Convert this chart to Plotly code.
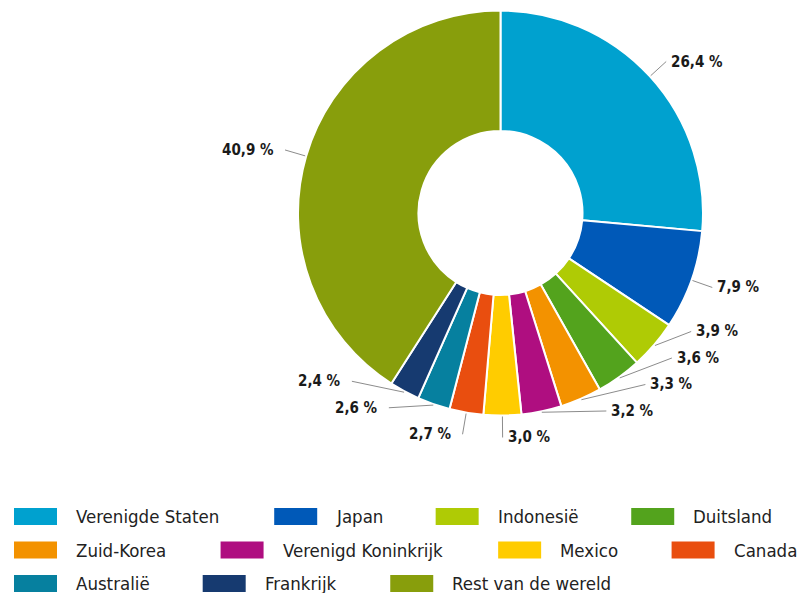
import math
import plotly.graph_objects as go

# ---------------- data ----------------
categories = ["Verenigde Staten", "Japan", "Indonesië", "Duitsland", "Zuid-Korea",
              "Verenigd Koninkrijk", "Mexico", "Canada", "Australië", "Frankrijk",
              "Rest van de wereld"]
shares = [26.4, 7.9, 3.9, 3.6, 3.3, 3.2, 3.0, 2.7, 2.6, 2.4, 40.9]
colors = ["#00A1CF", "#0059B8", "#AFCB05", "#53A31D", "#F39200", "#AF0E80",
          "#FFCC00", "#E94E0F", "#06809F", "#163A70", "#889E0C"]

# ---------------- layout constants ----------------
W, H = 801, 593
CX, CY, R = 500.5, 213.0, 202.5
HOLE = 0.405
LABEL_R = 224.5
MIN_DY = 26.5
FONT = "DejaVu Sans Condensed, sans-serif"
LEG_SIZE = 18.5
LAB_SIZE = 15


def px(x):
    return x / W


def py(y):
    return 1 - y / H


fig = go.Figure(go.Pie(
    labels=categories, values=shares,
    marker=dict(colors=colors, line=dict(color="white", width=2)),
    sort=False, direction="clockwise", rotation=0, hole=HOLE,
    textinfo="none", showlegend=False,
    domain=dict(x=[px(CX - R), px(CX + R)], y=[py(CY + R), py(CY - R)]),
))

# ---------------- outside labels with leader lines ----------------
total = sum(shares)
mids = []
cum = 0.0
for v in shares:
    mids.append(360.0 * (cum + v / 2) / total)
    cum += v

nat_y = [CY - LABEL_R * math.cos(math.radians(t)) for t in mids]
label_y = list(nat_y)
for side in (0, 1):
    idx = [i for i, t in enumerate(mids) if (t < 180) == (side == 0)]
    idx.sort(key=lambda i: -nat_y[i])
    prev = float("inf")
    for i in idx:
        y = min(nat_y[i], prev - MIN_DY)
        label_y[i] = y
        prev = y

shapes = []
annotations = []
for i, t in enumerate(mids):
    right = t < 180
    y = label_y[i]
    dx = math.sqrt(max(LABEL_R ** 2 - (y - CY) ** 2, 0))
    x = CX + dx if right else CX - dx
    sx = CX + (R + 1) * math.sin(math.radians(t))
    sy = CY - (R + 1) * math.cos(math.radians(t))
    shapes.append(dict(type="line", xref="paper", yref="paper",
                       x0=px(sx), y0=py(sy), x1=px(x), y1=py(y),
                       line=dict(color="#8c8c8c", width=1)))
    txt = f"{shares[i]:.1f}".replace(".", ",") + " %"
    annotations.append(dict(
        xref="paper", yref="paper", showarrow=False,
        x=px(x + 3 if right else x - 9), y=py(y),
        xanchor="left" if right else "right", yanchor="middle",
        text=txt, font=dict(family=FONT, size=LAB_SIZE, color="#1a1a1a", weight="bold"),
    ))

# ---------------- legend (flow layout) ----------------
# approximate DejaVu Sans advance widths (em/1000)
cw = {"a": 613, "b": 635, "c": 550, "d": 635, "e": 615, "f": 352, "g": 635, "h": 634,
      "i": 278, "j": 278, "k": 579, "l": 278, "m": 974, "n": 634, "o": 612, "p": 635,
      "r": 411, "s": 521, "t": 392, "u": 634, "v": 592, "w": 818, "x": 592, "y": 592,
      "z": 525, " ": 318, "-": 361, "ë": 615, "A": 684, "C": 698, "D": 770, "F": 575,
      "I": 295, "J": 295, "K": 656, "M": 863, "R": 695, "S": 635, "V": 684, "Z": 685}


def text_w(s):
    return sum(cw.get(c, 600) for c in s) / 1000 * 0.9 * LEG_SIZE


SW_W, SW_H, SW_GAP, ITEM_GAP = 43, 17, 17, 55
LEG_X0, LEG_Y0, ROW_H = 14, 516.5, 33.5
lx, row = LEG_X0, 0
for name, col in zip(categories, colors):
    w = SW_W + SW_GAP + text_w(name)
    if lx > LEG_X0 and lx + w > W:
        row += 1
        lx = LEG_X0
    yc = LEG_Y0 + row * ROW_H
    shapes.append(dict(type="rect", xref="paper", yref="paper",
                       x0=px(lx), x1=px(lx + SW_W), y0=py(yc + SW_H / 2), y1=py(yc - SW_H / 2),
                       fillcolor=col, line=dict(width=0)))
    annotations.append(dict(
        xref="paper", yref="paper", showarrow=False,
        x=px(lx + SW_W + SW_GAP), y=py(yc), xanchor="left", yanchor="middle",
        text=name, font=dict(family=FONT, size=LEG_SIZE, color="#222222"),
    ))
    lx += w + ITEM_GAP

fig.update_layout(
    width=W, height=H, margin=dict(l=0, r=0, t=0, b=0),
    paper_bgcolor="white", plot_bgcolor="white",
    shapes=shapes, annotations=annotations, showlegend=False,
)

fig.write_html("out.html", config={"displayModeBar": False},
               post_script="document.body.style.margin='0';document.body.style.overflow='hidden';")
